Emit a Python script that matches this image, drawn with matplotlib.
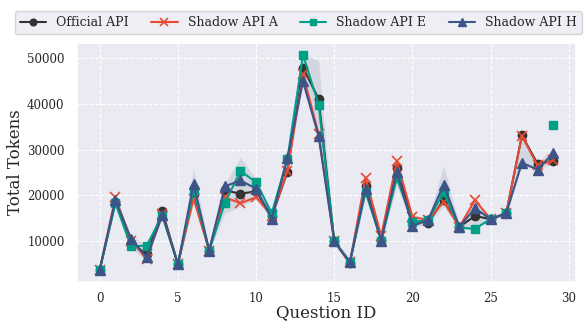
import numpy as np
import matplotlib.pyplot as plt
import seaborn as sns

sns.set_theme(style="darkgrid")
plt.rcParams["font.family"] = ["DejaVu Serif"]

# token counts per question
question_ids = np.arange(30)
official = [3600, 18500, 9500, 7000, 16500, 4800, 20300, 7800, 21000, 20300,
            20800, 15300, 25100, 48000, 41100, 9800, 5000, 21900, 10200, 26000,
            14300, 13900, 19000, 13000, 15400, 14700, 16000, 33100, 26900, 27500]
shadow_a = [3600, 19500, 10000, 6000, 15800, 4800, 19200, 7800, 19500, 18200,
            19500, 15500, 25300, 46500, 33400, 9800, 5200, 23800, 11000, 27500,
            15200, 14500, 18500, 13000, 18900, 14700, 16000, 33000, 26500, 27600]
shadow_e = [3600, 18200, 8700, 8900, 15500, 4800, 21200, 7800, 18200, 25300,
            22800, 16000, 27900, 50800, 39800, 9800, 5300, 20700, 10000, 23800,
            14000, 14500, 20600, 12800, 12600, 14700, 16000, np.nan, np.nan, 35300]
shadow_h = [3600, 18900, 10400, 6300, 15600, 4800, 22500, 7800, 21900, 23200,
            21400, 14800, 28100, 45000, 32900, 9800, 5300, 21400, 10000, 25100,
            13200, 14500, 22300, 13000, 17100, 14700, 16000, 27100, 25600, 29200]

# spread across runs
band_lo = [3300, 17500, 8300, 5500, 15000, 4500, 18500, 7500, 16000, 17500,
           19000, 14500, 24500, 44500, 32000, 9500, 4800, 19500, 9500, 22000,
           13000, 13500, 17500, 12500, 12500, 14500, 15500, 26500, 25500, 27000]
band_hi = [3800, 19500, 11000, 9000, 17000, 5500, 25800, 8500, 22500, 28300,
           23500, 16500, 28500, 51000, 49500, 10500, 6000, 24000, 11000, 27500,
           15500, 15000, 26400, 13500, 19000, 15000, 16500, 33000, 27000, 30500]

fig = plt.figure(figsize=(5.84, 3.24), dpi=100)
ax = fig.add_axes([0.132, 0.130, 0.854, 0.737])

ax.fill_between(question_ids, band_lo, band_hi, color="#8a9cb0", alpha=0.25,
                linewidth=0)

ax.plot(question_ids, official, color="#333333", marker="o", markersize=6,
        linewidth=1.5, label="Official API")
ax.plot(question_ids, shadow_a, color="#E64B35", marker="x", markersize=7,
        markeredgewidth=1.2, linewidth=1.5, label="Shadow API A")
ax.plot(question_ids, shadow_e, color="#00A087", marker="s", markersize=6,
        linewidth=1.5, label="Shadow API E")
ax.plot(question_ids, shadow_h, color="#3C5488", marker="^", markersize=7,
        linewidth=1.5, label="Shadow API H")

ax.grid(True, color="white", linestyle="--", linewidth=0.8)
ax.set_xticks([0, 5, 10, 15, 20, 25, 30])
ax.tick_params(axis="y", labelsize=8.5, pad=3)
ax.tick_params(axis="x", labelsize=8.5, pad=1.5)
ax.set_xlabel("Question ID", fontsize=12, labelpad=-1)
ax.set_ylabel("Total Tokens", fontsize=12, labelpad=2)

fig.legend(loc="upper center", bbox_to_anchor=(0.511, 0.985), ncol=4,
           fontsize=9, frameon=True, columnspacing=1.8, handlelength=2.1,
           markerscale=0.8)

plt.savefig("out.png", dpi=100)
